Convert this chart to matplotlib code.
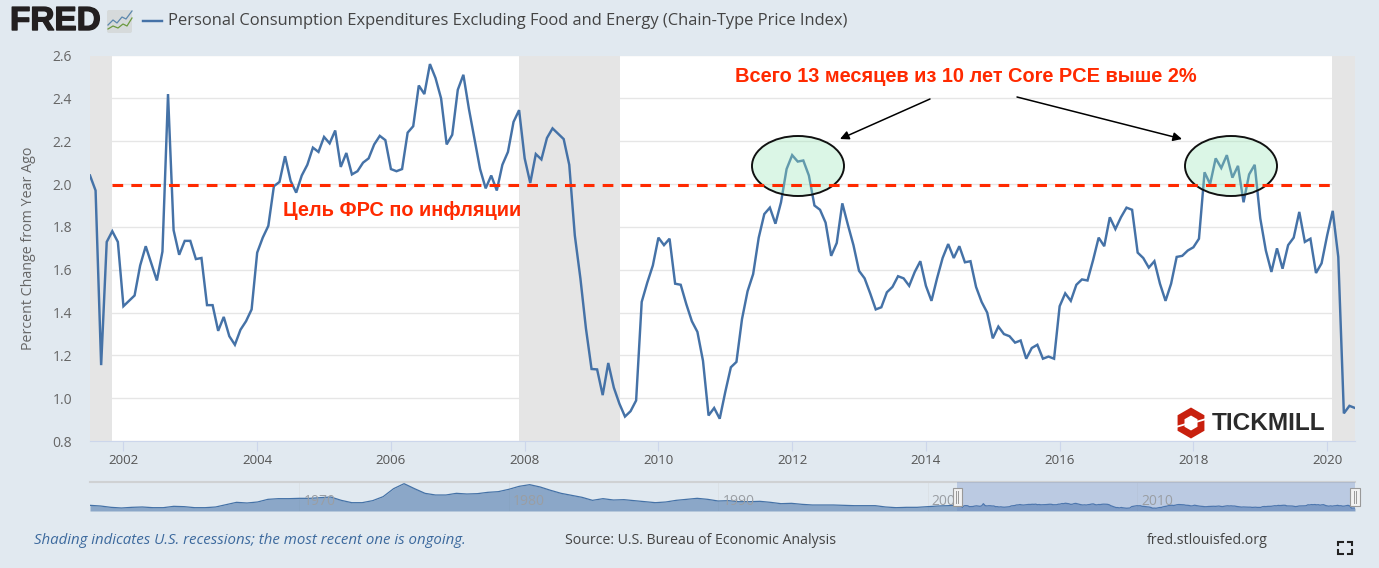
import numpy as np
import matplotlib
matplotlib.use('Agg')
import matplotlib.pyplot as plt
import matplotlib.patheffects as pe
from matplotlib.patches import Ellipse, Polygon, Rectangle, FancyBboxPatch

W, H = 1379, 568

# percent change from year ago, monthly from Jul 2001
pce = [
    2.04, 1.97, 1.155, 1.73, 1.78, 1.73, 1.43, 1.455, 1.48, 1.62, 1.71, 1.63,
    1.55, 1.685, 2.42, 1.785, 1.67, 1.735, 1.735, 1.65, 1.655, 1.435, 1.435, 1.315,
    1.38, 1.29, 1.25, 1.32, 1.36, 1.415, 1.68, 1.75, 1.805, 1.99, 2.01, 2.13,
    2.015, 1.96, 2.04, 2.09, 2.17, 2.15, 2.22, 2.19, 2.25, 2.08, 2.145, 2.045,
    2.06, 2.10, 2.12, 2.185, 2.225, 2.205, 2.07, 2.06, 2.07, 2.24, 2.27, 2.46,
    2.42, 2.56, 2.495, 2.40, 2.185, 2.23, 2.44, 2.51, 2.35, 2.21, 2.07, 1.98,
    2.04, 1.97, 2.09, 2.15, 2.29, 2.345, 2.12, 2.005, 2.14, 2.115, 2.215, 2.26,
    2.235, 2.21, 2.09, 1.76, 1.56, 1.325, 1.137, 1.135, 1.015, 1.165, 1.05, 0.975,
    0.915, 0.94, 0.99, 1.45, 1.54, 1.62, 1.75, 1.715, 1.745, 1.535, 1.53, 1.44,
    1.36, 1.31, 1.175, 0.92, 0.955, 0.905, 1.03, 1.145, 1.17, 1.37, 1.50, 1.58,
    1.75, 1.86, 1.89, 1.815, 1.915, 2.07, 2.135, 2.105, 2.11, 2.04, 1.90, 1.88,
    1.82, 1.665, 1.725, 1.91, 1.81, 1.715, 1.595, 1.56, 1.49, 1.415, 1.425, 1.495,
    1.52, 1.57, 1.56, 1.525, 1.59, 1.64, 1.525, 1.455, 1.56, 1.655, 1.72, 1.655,
    1.71, 1.635, 1.64, 1.52, 1.45, 1.40, 1.28, 1.335, 1.30, 1.29, 1.26, 1.27,
    1.185, 1.235, 1.25, 1.185, 1.195, 1.185, 1.43, 1.49, 1.455, 1.53, 1.555, 1.55,
    1.645, 1.75, 1.71, 1.845, 1.79, 1.845, 1.89, 1.88, 1.68, 1.655, 1.61, 1.64,
    1.535, 1.455, 1.535, 1.66, 1.665, 1.69, 1.705, 1.745, 2.055, 2.00, 2.12, 2.075,
    2.135, 2.03, 2.085, 1.915, 2.045, 2.09, 1.84, 1.69, 1.59, 1.70, 1.605, 1.715,
    1.75, 1.87, 1.73, 1.745, 1.585, 1.63, 1.76, 1.875, 1.66, 0.93, 0.965, 0.955,
]

# older part of the navigator, one value per half year from 1960
nav_old = [
    1.87, 1.65, 1.21, 0.99, 1.21, 1.32, 1.10, 1.10, 1.54, 1.43, 1.10, 1.10, 1.32, 2.09,
    2.86, 2.64, 2.97, 3.85, 4.07, 4.07, 4.18, 4.18, 4.40, 4.62, 3.52, 2.75, 2.75, 3.41,
    4.73, 7.37, 9.02, 7.37, 5.83, 5.28, 5.28, 5.83, 5.61, 5.72, 6.16, 6.38, 7.15, 8.14,
    8.69, 7.92, 6.82, 5.83, 5.17, 4.51, 3.52, 4.07, 3.63, 3.74, 3.41, 3.08, 2.75, 2.97,
    3.52, 3.85, 4.18, 3.85, 3.30, 3.41, 3.08, 3.08, 3.19, 2.86, 2.42, 2.53, 2.20, 1.98,
    1.98, 1.98, 1.87, 1.76, 1.76, 1.76, 1.32, 1.10, 1.21, 1.21, 1.43, 1.65, 1.76,
]

recessions = [(2001.5, 2001.83), (2007.92, 2009.42), (2020.08, 2020.42)]
x_ticks = [2002, 2004, 2006, 2008, 2010, 2012, 2014, 2016, 2018, 2020]
y_ticks = [0.8, 1.0, 1.2, 1.4, 1.6, 1.8, 2.0, 2.2, 2.4, 2.6]
nav_ticks = [1970, 1980, 1990, 2000, 2010]

BG = '#e1e9f0'
BLUE = '#4572a7'
RED = '#ff2a00'
SANS = ['Open Sans', 'DejaVu Sans']
ARIAL = ['Liberation Sans', 'DejaVu Sans']

plt.rcParams['font.family'] = SANS

def box(x0, y0, x1, y1):
    return [x0 / W, 1 - y1 / H, (x1 - x0) / W, (y1 - y0) / H]

fig = plt.figure(figsize=(W / 100, H / 100), dpi=100, facecolor=BG)

months = 2001.5 + np.arange(len(pce)) / 12

# main chart
ax = fig.add_axes(box(90, 55.5, 1355, 441.2))
ax.set_xlim(months[0], months[-1])
ax.set_ylim(0.8, 2.6)
ax.set_axisbelow(True)
ax.grid(axis='y', color='#e6e6e6', lw=1.0)
for start, end in recessions:
    ax.axvspan(start, end, color='#e5e5e5', lw=0, zorder=1.5)
ax.plot(months, pce, color=BLUE, lw=1.75, zorder=3, solid_joinstyle='miter')
ax.set_xticks(x_ticks)
ax.set_xticklabels([str(y) for y in x_ticks])
ax.set_yticks(y_ticks)
ax.set_yticklabels(['%.1f' % v for v in y_ticks])
ax.tick_params(axis='x', length=7.5, width=0.8, color='#ccd6eb', labelsize=9.6, labelcolor='#555555', pad=1.5)
ax.tick_params(axis='y', length=0, labelsize=10, labelcolor='#666666', pad=13)
for s in ['top', 'left', 'right']:
    ax.spines[s].set_visible(False)
ax.spines['bottom'].set_color('#ccd6eb')
ax.set_ylabel('Percent Change from Year Ago', fontsize=10.25, color='#666666', labelpad=11.5)

# navigator
nav = fig.add_axes(box(90, 481.7, 1355, 511))
nav.set_facecolor('none')
nav.set_axisbelow(True)
nav_x = np.concatenate([1960 + np.arange(len(nav_old)) / 2, months])
nav_y = np.concatenate([nav_old, pce])
nav.fill_between(nav_x, 0, nav_y, color=BLUE, alpha=0.55, lw=0)
nav.plot(nav_x, nav_y, color=BLUE, lw=0.9)
nav.set_xlim(1960, months[-1])
nav.set_ylim(0, 9.67)
nav.set_yticks([])
nav.set_xticks(nav_ticks)
nav.set_xticklabels([])
nav.tick_params(axis='x', length=0)
nav.grid(axis='x', color='#dbe1e6', lw=0.7)
for s in ['left', 'right', 'bottom']:
    nav.spines[s].set_visible(False)
nav.spines['top'].set_color('#cfd1d3')
nav.spines['top'].set_linewidth(1.5)
for y in nav_ticks:
    nav.text(y + 0.2, 3.1, str(y), fontsize=10, color='#9a9ea3', va='center', ha='left', zorder=5)
nav.axvspan(2001.4, months[-1], color='#6685c2', alpha=0.3, lw=0, zorder=3)

# everything else goes on a layer in pixel coordinates
top = fig.add_axes([0, 0, 1, 1], facecolor='none')
top.set_xlim(0, W)
top.set_ylim(H, 0)
top.axis('off')

# notes over the chart
for cx in [798, 1231]:
    top.add_patch(Ellipse((cx, 166), 92, 60, fc=(0.60, 0.90, 0.72, 0.35), ec='#111111', lw=1.4))
top.plot([112, 1332], [185, 185], color=RED, lw=2.2, ls=(0, (3.5, 2.67)))
top.text(965.5, 77, 'Всего 13 месяцев из 10 лет Core PCE выше 2%', family=ARIAL, weight='bold',
         fontsize=14.45, color=RED, ha='center', va='center')
top.text(402.5, 211, 'Цель ФРС по инфляции', family=ARIAL, weight='bold',
         fontsize=14.45, color=RED, ha='center', va='center')
for tail, head in [((930, 99), (840, 139)), ((1017, 97), (1182, 139))]:
    top.annotate('', xy=head, xytext=tail,
                 arrowprops=dict(arrowstyle='-|>', color='black', lw=1.1, mutation_scale=13,
                                 shrinkA=0, shrinkB=0))

# FRED header
top.text(10, 21.5, 'FRED', family=ARIAL, weight='bold', fontsize=24, color='#231f20', va='center', ha='left',
         path_effects=[pe.withStroke(linewidth=1.0, foreground='#231f20')])
top.add_patch(FancyBboxPatch((107, 10), 25, 23, boxstyle='round,pad=0,rounding_size=2', fc='#d6dadb', ec='none'))
top.plot([108, 113, 117, 122, 126, 132], [25, 20, 23, 17, 19, 11], color='#5b87ad', lw=0.9)
top.plot([108, 113, 118, 123, 127, 132], [29, 26, 28, 24, 26, 18], color='#6c9a3f', lw=0.9)
top.plot([143, 162], [21, 21], color=BLUE, lw=1.75)
top.text(168, 21, 'Personal Consumption Expenditures Excluding Food and Energy (Chain-Type Price Index)',
         fontsize=11.85, color='#444444', va='center', ha='left')

# Tickmill logo
hex_angles = np.deg2rad(np.arange(30, 390, 60))
top.add_patch(Polygon(np.c_[1191 + 15.5 * np.cos(hex_angles), 423 + 15.5 * np.sin(hex_angles)],
                      fc='#c8200e', ec='none'))
top.add_patch(Polygon(np.c_[1191 + 7.5 * np.cos(hex_angles), 423 + 7.5 * np.sin(hex_angles)],
                      fc='white', ec='none'))
top.plot([1176, 1186], [427, 424], color='white', lw=1.3)
top.plot([1196, 1206], [422, 419], color='white', lw=1.3)
top.text(1212, 423.5, 'TICKMILL', family=ARIAL, weight='bold', fontsize=17.6, color='#2b2b2b', va='center', ha='left')

# navigator handles
for hx in [952.5, 1350]:
    top.add_patch(Rectangle((hx, 488), 9.5, 18, fc='#f2f2f2', ec='#999999', lw=0.8))
    top.plot([hx + 3.7, hx + 3.7], [491, 503], color='#999999', lw=0.7)
    top.plot([hx + 5.8, hx + 5.8], [491, 503], color='#999999', lw=0.7)

# footer
top.text(34, 540, 'Shading indicates U.S. recessions; the most recent one is ongoing.',
         fontsize=10.8, style='italic', color='#3d6a9e', va='center', ha='left')
top.text(565, 540, 'Source: U.S. Bureau of Economic Analysis', fontsize=10.2, color='#444444', va='center', ha='left')
top.text(1147, 540, 'fred.stlouisfed.org', fontsize=10.2, color='#444444', va='center', ha='left')

# full screen icon
for sx, sy in [(1338, 541.5), (1352, 541.5), (1338, 553.5), (1352, 553.5)]:
    dx = 4.5 if sx < 1345 else -4.5
    dy = 3.5 if sy < 547 else -3.5
    top.plot([sx + dx, sx, sx], [sy, sy, sy + dy], color='#222222', lw=1.5, solid_joinstyle='miter')

fig.savefig('out.png', dpi=100, facecolor=BG)
